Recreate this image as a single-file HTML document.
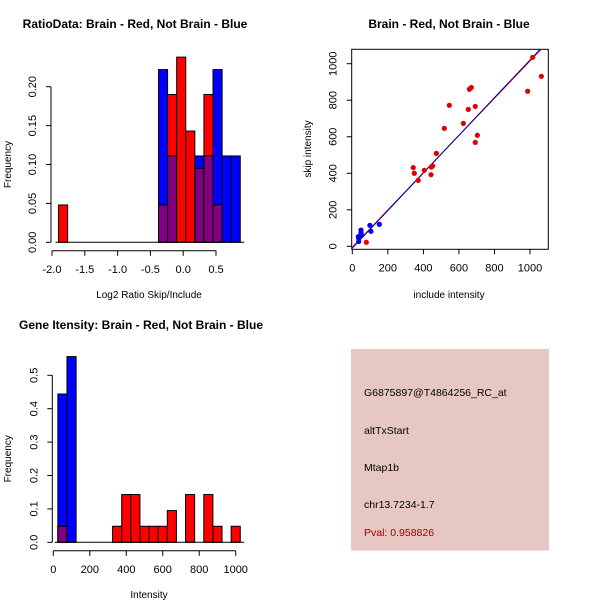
<!DOCTYPE html>
<html><head><meta charset="utf-8"><style>
body{margin:0;background:#fff}
svg{display:block;font-family:"Liberation Sans",sans-serif}
</style></head><body>
<svg id="c" width="600" height="600" xmlns="http://www.w3.org/2000/svg">
<rect width="600" height="600" fill="#fff"/>
</svg>
<script>
// Ratio histogram data
const ratioBreakStart = -1.9;
const ratioBinWidth = 0.1385;
const ratioBlue = [0,0,0,0,0,0,0,0,0,0,0,0.222,0.111,0,0,0.111,0.111,0.222,0.111,0.111];
const ratioRed  = [0.048,0,0,0,0,0,0,0,0,0,0,0.048,0.19,0.238,0.143,0.095,0.19,0.048,0,0];
const ratioXTicks = [-2.0,-1.5,-1.0,-0.5,0.0,0.5];
const ratioYTicks = [0.00,0.05,0.10,0.15,0.20];
// Scatter data
const redInclude = [79,343,349,371,405,443,445,452,473,518,546,625,653,659,670,692,692,704,987,1015,1064];
const redSkip    = [22,431,400,361,416,392,434,440,509,646,772,673,750,860,870,766,569,608,849,1035,931];
const blueInclude = [36,36,49,49,99,105,152,51,34];
const blueSkip    = [26,44,89,75,115,82,120,64,53];
const redFit = [-5,1.02];
const blueFit = [-10,1.03];
const scatterTicks = [0,200,400,600,800,1000];
// Intensity histogram data
const intBreakStart = 25;
const intBinWidth = 50;
const intBlue = [0.444,0.556,0,0,0,0,0,0,0,0,0,0,0,0,0,0,0,0,0,0];
const intRed  = [0.048,0,0,0,0,0,0.048,0.143,0.143,0.048,0.048,0.048,0.095,0,0.143,0,0.143,0.048,0,0.048];
const intXTicks = [0,200,400,600,800,1000];
const intYTicks = [0.0,0.1,0.2,0.3,0.4,0.5];

const svg=document.getElementById('c');
const NS='http://www.w3.org/2000/svg';
function el(tag,attrs,parent,text){const e=document.createElementNS(NS,tag);for(const k in attrs)e.setAttribute(k,attrs[k]);if(text!==undefined)e.textContent=text;(parent||svg).appendChild(e);return e;}
function grp(name){const g=el('g',{});


return g;}

function hist(name,x0,x1,v0,v1,y0,y1,w0,w1,start,bw,blue,red,xt,yt,title,tx,ty,xlab,xlx,fmt){
  const g=grp(name);
  const X=v=>x0+(v-v0)/(v1-v0)*(x1-x0);
  const Y=v=>y0-(v-w0)/(w1-w0)*(y0-y1);
  const base=Y(0);
  for(let i=0;i<blue.length;i++){
    const a=X(start+i*bw),b=X(start+(i+1)*bw);
    const hb=blue[i],hr=red[i],m=Math.min(hb,hr);
    if(hb>0){const r=el('rect',{x:a,y:Y(hb),width:b-a,height:base-Y(hb),fill:'#0000ff',stroke:'#000','stroke-width':1},g);
      
      }
    if(hr>0){const r=el('rect',{x:a,y:Y(hr),width:b-a,height:base-Y(hr),fill:'#ff0000',stroke:'#000','stroke-width':1},g);
      
      }
    if(m>0){const r=el('rect',{x:a,y:Y(m),width:b-a,height:base-Y(m),fill:'#800080',stroke:'#000','stroke-width':1},g);
      
      }
  }
  el('line',{x1:X(start)-3,x2:X(start+blue.length*bw)+4,y1:base,y2:base,stroke:'#000'},g);
  const ax=y0+8.5;
  el('line',{x1:X(xt[0]),x2:X(xt[xt.length-1]),y1:ax,y2:ax,stroke:'#000'},g);
  xt.forEach(t=>{el('line',{x1:X(t),x2:X(t),y1:ax,y2:ax+5,stroke:'#000'},g);
    el('text',{x:X(t),y:ax+22,'font-size':11,'text-anchor':'middle'},g,fmt(t));});
  const ay=x0-1;
  el('line',{x1:ay,x2:ay,y1:Y(yt[0]),y2:Y(yt[yt.length-1]),stroke:'#000'},g);
  yt.forEach(t=>{el('line',{x1:ay-5,x2:ay,y1:Y(t),y2:Y(t),stroke:'#000'},g);
    el('text',{x:ay-15,y:Y(t),'font-size':11,'text-anchor':'middle',transform:`rotate(-90 ${ay-15} ${Y(t)})`},g,t.toFixed(yt[1]<0.1?2:1));});
  el('text',{x:tx,y:ty,'font-size':12,'font-weight':'bold','text-anchor':'middle'},g,title);
  el('text',{x:xlx,y:ax+47,'font-size':10,'text-anchor':'middle'},g,xlab);
  const my=(y0+Y(yt[yt.length-1]))/2;
  el('text',{x:11,y:my,'font-size':10,'text-anchor':'middle',transform:`rotate(-90 11 ${my})`},g,'Frequency');
}
hist('ratio-histogram',52,216,-2,0.5,242.3,86.7,0,0.2,ratioBreakStart,ratioBinWidth,ratioBlue,ratioRed,ratioXTicks,ratioYTicks,'RatioData: Brain - Red, Not Brain - Blue',135,28,'Log2 Ratio Skip/Include',149,t=>t.toFixed(1));
hist('intensity-histogram',53.3,235.7,0,1000,542.3,375.3,0,0.5,intBreakStart,intBinWidth,intBlue,intRed,intXTicks,intYTicks,'Gene Itensity: Brain - Red, Not Brain - Blue',141,329,'Intensity',149,t=>String(t));

// scatter
(function(){
  const g=grp('scatter-plot');
  const X=v=>352.3+v*0.1777, Y=v=>246.3-v*0.1826;
  const L=351.7,R=548.3,T=49.3,B=249.3;
  el('defs',{},g).innerHTML='<clipPath id="cp"><rect x="351.7" y="49.3" width="196.6" height="200"/></clipPath>';
  el('rect',{x:L,y:T,width:R-L,height:B-T,fill:'none',stroke:'#000'},g);
  [[redFit,'#ff0000'],[blueFit,'#0000aa']].forEach(([f,c])=>{
    const l=el('line',{x1:X(-100),y1:Y(f[0]+f[1]*-100),x2:X(1200),y2:Y(f[0]+f[1]*1200),stroke:c,'clip-path':'url(#cp)'},g);
    
    
  });
  redInclude.forEach((v,i)=>{const p=el('circle',{cx:X(v),cy:Y(redSkip[i]),r:2.6,fill:'#e00000'},g);
    
    });
  blueInclude.forEach((v,i)=>{const p=el('circle',{cx:X(v),cy:Y(blueSkip[i]),r:2.6,fill:'#0000ee'},g);
    
    });
  scatterTicks.forEach(t=>{
    el('line',{x1:X(t),x2:X(t),y1:B,y2:B+5,stroke:'#000'},g);
    el('text',{x:X(t),y:B+22,'font-size':11,'text-anchor':'middle'},g,String(t));
    el('line',{x1:L-5,x2:L,y1:Y(t),y2:Y(t),stroke:'#000'},g);
    el('text',{x:L-15,y:Y(t),'font-size':11,'text-anchor':'middle',transform:`rotate(-90 ${L-15} ${Y(t)})`},g,String(t));
  });
  el('text',{x:449,y:28,'font-size':12,'font-weight':'bold','text-anchor':'middle'},g,'Brain - Red, Not Brain - Blue');
  el('text',{x:449,y:298,'font-size':10,'text-anchor':'middle'},g,'include intensity');
  el('text',{x:311,y:149,'font-size':10,'text-anchor':'middle',transform:'rotate(-90 311 149)'},g,'skip intensity');
})();
</script>
<svg x="0" y="0" width="600" height="600" style="position:absolute;left:0;top:0" xmlns="http://www.w3.org/2000/svg">
<rect x="351" y="349" width="198" height="201.5" fill="#e6c7c1"/>
<text x="364" y="396" font-size="10.5" font-family="Liberation Sans, sans-serif">G6875897@T4864256_RC_at</text>
<text x="364" y="434" font-size="10.5" font-family="Liberation Sans, sans-serif">altTxStart</text>
<text x="364" y="471" font-size="10.5" font-family="Liberation Sans, sans-serif">Mtap1b</text>
<text x="364" y="508" font-size="10.5" font-family="Liberation Sans, sans-serif">chr13.7234-1.7</text>
<text x="364" y="536" font-size="10.5" fill="#a00000" font-family="Liberation Sans, sans-serif">Pval: 0.958826</text>
</svg>
</body></html>
